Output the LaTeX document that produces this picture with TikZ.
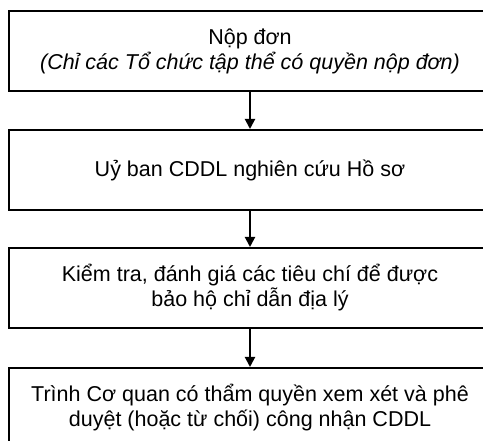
\documentclass[tikz,border=0pt]{standalone}
\usepackage{fontspec}
\setmainfont{Liberation Sans}
\usetikzlibrary{arrows.meta}
\tikzset{
  stepbox/.style={draw=black, line width=2pt, minimum width=482pt, minimum height=80pt,
    inner sep=0pt, align=center, font=\fontsize{21.5}{25}\selectfont},
  flow/.style={line width=2pt, -{Triangle[width=10pt,length=10pt]}}
}
\begin{document}
\begin{tikzpicture}[x=1pt, y=-1pt]
  \useasboundingbox (0,0) rectangle (483,441);
  \fill[white] (0,0) rectangle (483,441);
  \clip (0,0) rectangle (483,441);
  \node[stepbox] (s1) at (250,51) {Nộp đơn\\\textit{(Chỉ các Tổ chức tập thể có quyền nộp đơn)}};
  \node[stepbox] (s2) at (250,170) {Uỷ ban CDDL nghiên cứu Hồ sơ};
  \node[stepbox] (s3) at (250,288) {Kiểm tra, đánh giá các tiêu chí để được\\bảo hộ chỉ dẫn địa lý};
  \node[stepbox] (s4) at (250,408) {Trình Cơ quan có thẩm quyền xem xét và phê\\duyệt (hoặc từ chối) công nhận CDDL};
  \draw[flow] (s1.south) -- (s2.north);
  \draw[flow] (s2.south) -- (s3.north);
  \draw[flow] (s3.south) -- (s4.north);
\end{tikzpicture}
\end{document}
